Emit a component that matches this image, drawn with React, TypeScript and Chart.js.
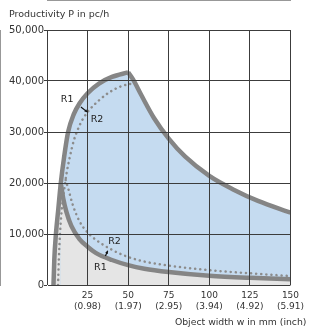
import React, { useEffect, useRef } from 'react';
import { Chart, registerables } from 'chart.js';

Chart.register(...registerables);

// ---- data (object width w in mm, productivity P in pc/h) ----
const upperRiseX = [4, 4.5, 5.5, 7, 8.5, 10.5, 13, 16.5, 20, 25, 32, 40, 50];
const upperRiseP = [0, 5000, 10000, 15000, 20000, 25000, 30000, 33500, 35600, 37600, 39500, 40800, 41700];

const upperFallX = [50, 53, 58, 66, 75, 85, 100, 115, 130, 150];
const upperFallP = [41700, 40300, 37300, 32700, 28700, 25200, 21400, 18700, 16500, 14200];

const lowerR1X = [8.5, 10, 12, 15, 20, 25, 30, 40, 50, 60, 75, 100, 125, 150];
const lowerR1P = [20000, 17000, 14300, 11600, 9000, 7500, 6300, 4900, 3900, 3200, 2550, 1800, 1400, 1150];

const r2UpperX = [6.8, 7.3, 8, 9, 10.5, 12, 14, 16.5, 19, 22, 26, 32, 38, 46, 54];
const r2UpperP = [0, 5000, 10000, 14500, 18500, 21800, 25000, 28300, 30500, 32500, 34300, 36200, 37700, 39000, 39600];

const r2LowerX = [11.5, 13, 16, 20, 25, 30, 40, 50, 60, 75, 100, 125, 150];
const r2LowerP = [20600, 19000, 15600, 12500, 10300, 8900, 6900, 5500, 4600, 3800, 2900, 2300, 1750];

const crossingX = 8.5;

const xTickValues = [0, 25, 50, 75, 100, 125, 150];
const xTickInch = ['', '(0.98)', '(1.97)', '(2.95)', '(3.94)', '(4.92)', '(5.91)'];

const yTitle = 'Productivity P in pc/h';
const xTitle = 'Object width w in mm (inch)';

const curveLabels = [
  { text: 'R1', x: 12.4, y: 36400 },
  { text: 'R2', x: 30.8, y: 32490 },
  { text: 'R2', x: 41.6, y: 8610 },
  { text: 'R1', x: 32.9, y: 3520 },
];
const arrows = [
  { x1: 20.9, y1: 34900, x2: 24.9, y2: 33900 },
  { x1: 36.0, y1: 5680, x2: 37.4, y2: 6710 },
];

const toPts = (xs: number[], ys: number[]) => xs.map((x, i) => ({ x, y: ys[i] }));

const BLUE = '#c5dbf0';
const GRAY_FILL = '#e5e5e5';
const CURVE = '#858585';
const DOT = '#8c8c8c';
const FONT = 'DejaVu Sans';

const annotate = {
  id: 'annotate',
  afterDraw(chart: any) {
    const { ctx, scales } = chart;
    const xs = scales.x;
    const ys = scales.y;
    ctx.save();
    ctx.fillStyle = '#333';
    ctx.font = `9.5px "${FONT}"`;
    ctx.textBaseline = 'alphabetic';
    ctx.textAlign = 'left';
    ctx.fillText(yTitle, 9, 16.5);
    ctx.font = `9.3px "${FONT}"`;
    ctx.textAlign = 'right';
    ctx.fillText(xTitle, chart.width - 2.5, 324.5);

    ctx.font = `9.5px "${FONT}"`;
    ctx.textAlign = 'center';
    ctx.textBaseline = 'middle';
    ctx.fillStyle = '#222';
    curveLabels.forEach((l) => {
      ctx.fillText(l.text, xs.getPixelForValue(l.x), ys.getPixelForValue(l.y));
    });

    ctx.strokeStyle = '#111';
    ctx.fillStyle = '#111';
    ctx.lineWidth = 1.2;
    arrows.forEach((a) => {
      const px1 = xs.getPixelForValue(a.x1);
      const py1 = ys.getPixelForValue(a.y1);
      const px2 = xs.getPixelForValue(a.x2);
      const py2 = ys.getPixelForValue(a.y2);
      const ang = Math.atan2(py2 - py1, px2 - px1);
      ctx.beginPath();
      ctx.moveTo(px1, py1);
      ctx.lineTo(px2, py2);
      ctx.stroke();
      const h = 3.2;
      ctx.beginPath();
      ctx.moveTo(px2, py2);
      ctx.lineTo(px2 - h * Math.cos(ang - 0.5), py2 - h * Math.sin(ang - 0.5));
      ctx.lineTo(px2 - h * Math.cos(ang + 0.5), py2 - h * Math.sin(ang + 0.5));
      ctx.closePath();
      ctx.fill();
    });
    ctx.restore();
  },
};

export default function App() {
  const ref = useRef<HTMLCanvasElement>(null);

  useEffect(() => {
    if (!ref.current) return;
    const riseIdx = upperRiseX.filter((x) => x <= crossingX).length;
    const chart = new Chart(ref.current, {
      type: 'line',
      data: {
        datasets: [
          {
            data: toPts(lowerR1X, lowerR1P),
            borderColor: CURVE,
            borderWidth: 4.5,
            fill: 'origin',
            backgroundColor: GRAY_FILL,
          },
          {
            data: toPts(upperRiseX.slice(0, riseIdx), upperRiseP.slice(0, riseIdx)),
            borderColor: 'rgba(0,0,0,0)',
            borderWidth: 1,
            fill: 'origin',
            backgroundColor: GRAY_FILL,
          },
          {
            data: toPts(upperRiseX, upperRiseP),
            borderColor: CURVE,
            borderWidth: 4.5,
            fill: 'origin',
            backgroundColor: BLUE,
          },
          {
            data: toPts(upperFallX, upperFallP),
            borderColor: CURVE,
            borderWidth: 4.5,
            fill: 'origin',
            backgroundColor: BLUE,
          },
          {
            data: toPts(r2UpperX, r2UpperP),
            borderColor: DOT,
            borderWidth: 2.5,
            borderDash: [0.1, 5],
            borderCapStyle: 'round',
            fill: false,
          },
          {
            data: toPts(r2LowerX, r2LowerP),
            borderColor: DOT,
            borderWidth: 2.5,
            borderDash: [0.1, 5],
            borderCapStyle: 'round',
            fill: false,
          },
        ] as any,
      },
      options: {
        animation: false,
        responsive: false,
        maintainAspectRatio: false,
        layout: { padding: { left: 0, right: 14, top: 30, bottom: 0 } },
        elements: {
          point: { radius: 0, hoverRadius: 0 },
          line: { cubicInterpolationMode: 'monotone', borderJoinStyle: 'round' },
        },
        plugins: {
          legend: { display: false },
          tooltip: { enabled: false },
          filler: { drawTime: 'beforeDatasetsDraw', propagate: false },
        } as any,
        scales: {
          x: {
            type: 'linear',
            min: 0,
            max: 150,
            afterFit: (s: any) => {
              s.height = 45;
            },
            afterBuildTicks: (s: any) => {
              s.ticks = xTickValues.map((v) => ({ value: v }));
            },
            ticks: {
              autoSkip: false,
              maxRotation: 0,
              padding: 5,
              color: '#333',
              font: { family: FONT, size: 9, lineHeight: 1.2 },
              callback: (v: any) => {
                const i = xTickValues.indexOf(Number(v));
                if (i <= 0) return '';
                return [String(v), xTickInch[i]];
              },
            },
            grid: { color: '#3c3c3c', lineWidth: 1, drawTicks: false, z: 1 },
            border: { color: '#333', width: 1 },
          },
          y: {
            min: 0,
            max: 50000,
            afterFit: (s: any) => {
              s.width = 47;
            },
            ticks: {
              stepSize: 10000,
              padding: 0,
              color: '#333',
              font: { family: FONT, size: 10 },
              callback: (v: any) => Number(v).toLocaleString('en-US'),
            },
            grid: { color: '#3c3c3c', lineWidth: 1, tickLength: 3, z: 1 },
            border: { color: '#333', width: 1 },
          },
        },
      } as any,
      plugins: [annotate],
    });
    return () => chart.destroy();
  }, []);

  return (
    <div style={{ position: 'absolute', left: 0, top: 0, width: 309, height: 330 }}>
      <canvas ref={ref} width={309} height={330} style={{ display: 'block', width: 309, height: 330 }} />
    </div>
  );
}
